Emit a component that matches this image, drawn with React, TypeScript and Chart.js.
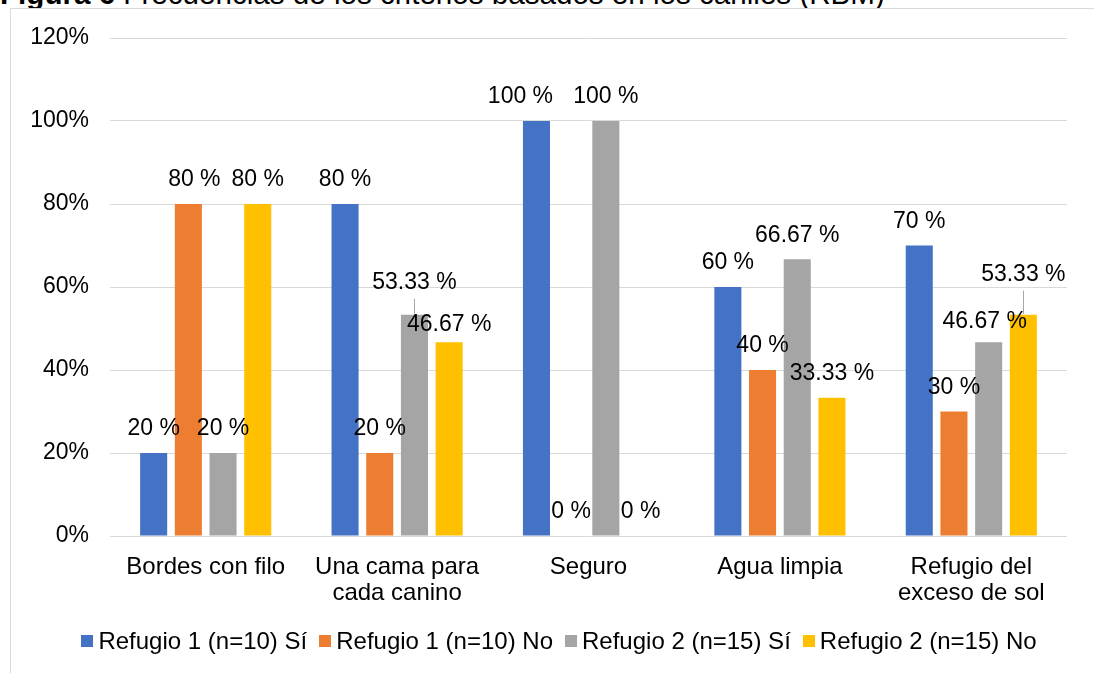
import React, { useEffect, useRef } from 'react';
import { Chart, registerables } from 'chart.js';

Chart.register(...registerables);

const categories: (string | string[])[] = [
  'Bordes con filo',
  ['Una cama para', 'cada canino'],
  'Seguro',
  'Agua limpia',
  ['Refugio del', 'exceso de sol'],
];
const seriesNames = [
  'Refugio 1 (n=10) Sí',
  'Refugio 1 (n=10) No',
  'Refugio 2 (n=15) Sí',
  'Refugio 2 (n=15) No',
];
const refugio1Si = [20, 80, 100, 60, 70];
const refugio1No = [80, 20, 0, 40, 30];
const refugio2Si = [20, 53.33, 100, 66.67, 46.67];
const refugio2No = [80, 46.67, 0, 33.33, 53.33];
const seriesColors = ['#4472C4', '#ED7D31', '#A5A5A5', '#FFC000'];
const yMin = 0;
const yMax = 120;
const yStep = 20;

const titleBold = 'Figura 6';
const titleRest = ' Frecuencias de los criterios basados en los caniles (RBM)';

// Label placement tweaks (Excel moved a few labels to avoid overlaps)
const labelNudges: Record<string, { dx?: number; dy?: number; leader?: boolean }> = {
  '0-2': { dx: -16 },
  '1-0': { dx: 6 },
  '2-1': { dy: -8, leader: true },
  '3-1': { dy: 6 },
  '2-4': { dx: -4, dy: 3 },
  '3-4': { dy: -16, leader: true },
};

const FONT = '"Liberation Sans", Arial, Helvetica, sans-serif';

const fmt = (v: number) => (Number.isInteger(v) ? `${v} %` : `${v.toFixed(2)} %`);

const dataLabelPlugin = {
  id: 'dataLabels',
  afterDatasetsDraw(chart: any) {
    const ctx = chart.ctx;
    ctx.save();
    ctx.font = `23px ${FONT}`;
    ctx.fillStyle = '#000';
    ctx.textAlign = 'center';
    ctx.textBaseline = 'middle';
    chart.data.datasets.forEach((ds: any, di: number) => {
      const meta = chart.getDatasetMeta(di);
      meta.data.forEach((bar: any, i: number) => {
        const v = ds.data[i];
        const n = labelNudges[`${di}-${i}`] || {};
        const x = bar.x + (n.dx || 0);
        const y = bar.y - 24 + (n.dy || 0);
        if (n.leader) {
          ctx.save();
          ctx.strokeStyle = '#A6A6A6';
          ctx.lineWidth = 1;
          ctx.beginPath();
          ctx.moveTo(Math.round(bar.x) + 0.5, y + 16);
          ctx.lineTo(Math.round(bar.x) + 0.5, bar.y - 1);
          ctx.stroke();
          ctx.restore();
        }
        ctx.fillText(fmt(v), x, y);
      });
    });
    ctx.restore();
  },
};

// Excel-style legend: small square, short gap, wider spacing between items
const legendPlugin = {
  id: 'excelLegend',
  afterDraw(chart: any) {
    const ctx = chart.ctx;
    ctx.save();
    ctx.font = `24px ${FONT}`;
    ctx.textBaseline = 'middle';
    ctx.textAlign = 'left';
    const box = 12;
    const gap = 5;
    const spacing = 12;
    const items = chart.data.datasets.map((ds: any) => ({
      label: ds.label as string,
      color: ds.backgroundColor as string,
    }));
    const widths = items.map((it: any) => box + gap + ctx.measureText(it.label).width);
    const total = widths.reduce((a: number, b: number) => a + b, 0) + spacing * (items.length - 1);
    let x = chart.width / 2 - total / 2;
    const y = chart.chartArea.bottom + 105;
    items.forEach((it: any, i: number) => {
      ctx.fillStyle = it.color;
      ctx.fillRect(Math.round(x), Math.round(y - box / 2), box, box);
      ctx.fillStyle = '#000';
      ctx.fillText(it.label, x + box + gap, y + 1);
      x += widths[i] + spacing;
    });
    ctx.restore();
  },
};

export default function App() {
  const ref = useRef<HTMLCanvasElement>(null);

  useEffect(() => {
    document.body.style.margin = '0';
    const seriesData = [refugio1Si, refugio1No, refugio2Si, refugio2No];
    const chart = new Chart(ref.current as HTMLCanvasElement, {
      type: 'bar',
      data: {
        labels: categories,
        datasets: seriesNames.map((name, i) => ({
          label: name,
          data: seriesData[i],
          backgroundColor: seriesColors[i],
          borderWidth: 0,
          categoryPercentage: 0.725,
          barPercentage: 0.78,
        })),
      },
      options: {
        responsive: false,
        animation: false,
        layout: { padding: { top: 29, right: 40, bottom: 83, left: 0 } },
        plugins: {
          legend: { display: false },
          tooltip: { enabled: false },
          title: { display: false },
        },
        scales: {
          x: {
            grid: { display: false, drawTicks: false },
            border: { display: false },
            ticks: {
              color: '#000',
              padding: 18,
              maxRotation: 0,
              autoSkip: false,
              font: { family: FONT, size: 24, lineHeight: '26px' },
            },
            afterFit: (scale: any) => {
              scale.height = 90;
            },
          },
          y: {
            min: yMin,
            max: yMax,
            grid: { color: '#D9D9D9', lineWidth: 1, drawTicks: false },
            border: { display: false },
            ticks: {
              stepSize: yStep,
              color: '#000',
              padding: 21,
              font: { family: FONT, size: 23, lineHeight: 0.5 },
              callback: (v: any) => `${v}%`,
            },
            afterFit: (scale: any) => {
              scale.width = 99;
            },
          },
        },
      },
      plugins: [dataLabelPlugin, legendPlugin],
    });
    return () => chart.destroy();
  }, []);

  return (
    <div
      style={{
        position: 'relative',
        width: 1094,
        height: 673,
        overflow: 'hidden',
        background: '#fff',
        fontFamily: FONT,
      }}
    >
      <div
        style={{
          position: 'absolute',
          left: 0,
          top: -21,
          fontSize: 29.6,
          lineHeight: '30px',
          whiteSpace: 'nowrap',
          color: '#000',
        }}
      >
        <b>{titleBold}</b>
        {titleRest}
      </div>
      <div
        style={{
          position: 'absolute',
          left: 10,
          top: 8,
          width: 1096,
          height: 700,
          border: '1px solid #D9D9D9',
          background: '#fff',
        }}
      >
        <canvas
          ref={ref}
          width={1096}
          height={700}
          style={{ display: 'block', width: 1096, height: 700 }}
        />
      </div>
    </div>
  );
}
